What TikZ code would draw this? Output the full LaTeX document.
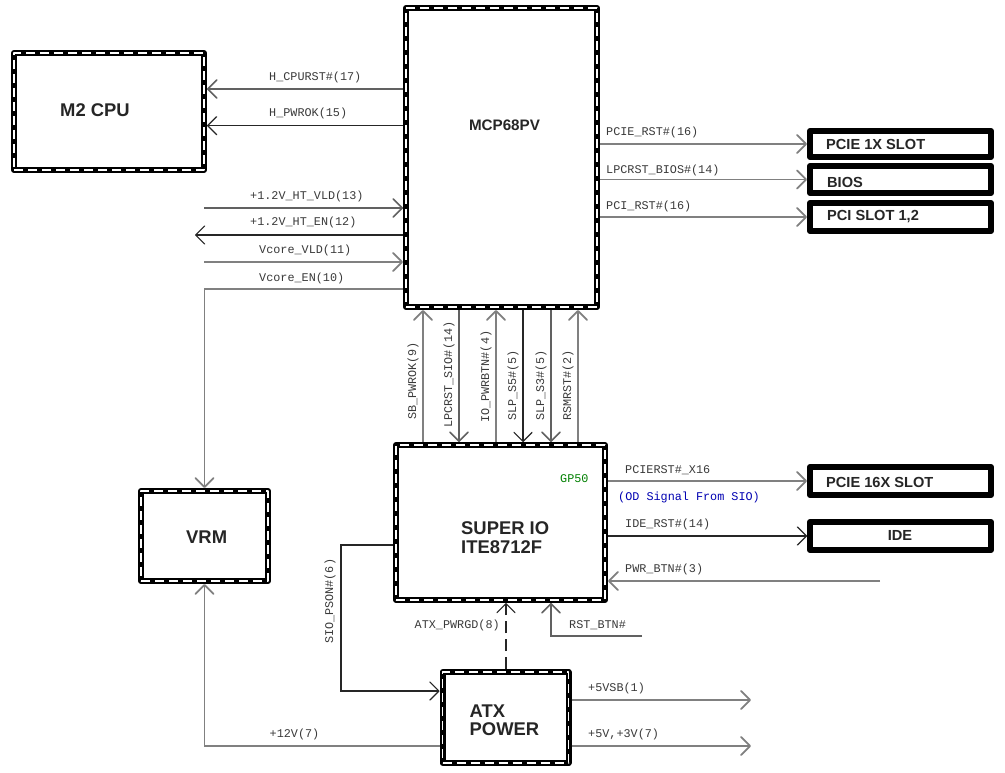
\documentclass[tikz,border=0pt]{standalone}
\usepackage{fontspec}
\setmainfont{Liberation Sans}
\setmonofont{Liberation Mono}
\usetikzlibrary{arrows.meta}
\definecolor{txt}{HTML}{3A3A3A}
\tikzset{
  x=1pt,y=-1pt,
  dbox/.style={draw=black,line width=6pt,fill=white,inner sep=0pt,outer sep=3pt,line join=round,
    postaction={draw=white,line width=1.1pt,dash pattern=on 9pt off 5pt}},
  sbox/.style={draw=black,line width=6pt,fill=white,inner sep=0pt,outer sep=3pt,line join=round,minimum width=181pt},
  lbl/.style={font=\fontsize{11.8}{12}\selectfont\ttfamily,text=txt,inner sep=0pt,anchor=west},
  vlbl/.style={lbl,rotate=90},
  big/.style={font=\fontsize{18.4}{18.4}\selectfont\bfseries,text=black!85,inner sep=0pt,anchor=west,align=left},
  slot/.style={font=\fontsize{14.6}{15}\selectfont\bfseries,text=black!85,inner sep=0pt,anchor=west},
  tip/.style={-{Straight Barb[length=9pt,width=18pt,round]}},
  wg/.style={tip,draw=black!50,line width=1.8pt},
  wm/.style={tip,draw=black!62,line width=1.5pt},
  wd/.style={tip,draw=black!85,line width=1.2pt},
  pg/.style={draw=black!45,line width=1.8pt},
  pd/.style={draw=black!85,line width=1.2pt},
}
\begin{document}
\begin{tikzpicture}
\useasboundingbox (0,0) rectangle (1005,773);
\fill[white] (0,0) rectangle (1005,773);
% boxes
\node[dbox,minimum width=190pt,minimum height=117pt] (cpu) at (109,111.5) {};
\node[dbox,minimum width=191pt,minimum height=299pt] (mcp) at (501.5,157.5) {};
\node[dbox,minimum width=209pt,minimum height=155pt] (sio) at (500.5,522.5) {};
\node[dbox,minimum width=127pt,minimum height=90pt] (vrm) at (204.5,536) {};
\node[dbox,minimum width=126pt,minimum height=91pt] (atx) at (505.5,717.5) {};
\node[sbox,minimum height=26pt] (p1x) at (900.5,144) {};
\node[sbox,minimum height=27pt] (bios) at (900.5,179.5) {};
\node[sbox,minimum height=28pt] (pci) at (900.5,217) {};
\node[sbox,minimum height=28pt] (p16) at (900.5,481) {};
\node[sbox,minimum height=28pt] (ide) at (900.5,536) {};
% box titles
\node[big] (tcpu) at (60,110) {M2 CPU};
\node[font=\fontsize{15.2}{16}\selectfont\bfseries,text=black!85,inner sep=0pt] (tmcp) at (504.5,125) {MCP68PV};
\node[big] (tsio) at (461,537.5) {SUPER IO\\ITE8712F};
\node[big] (tvrm) at (186,537) {VRM};
\node[big] (tatx) at (469.5,720.5) {ATX\\POWER};
\node[slot] (tp1x) at (826,144.5) {PCIE 1X SLOT};
\node[slot] (tbios) at (827,182) {BIOS};
\node[slot] (tpci) at (827,217) {PCI SLOT 1,2};
\node[slot] (tp16) at (826,482) {PCIE 16X SLOT};
\node[slot,anchor=center] (tide) at (900,535) {IDE};
% free ends
\coordinate (fvld) at (204,208);
\coordinate (fen) at (195,235);
\coordinate (fvcv) at (204,262);
\coordinate (pwr) at (880,581);
\coordinate (rst) at (642,636);
\coordinate (v5sb) at (751,700);
\coordinate (v5) at (751,746);
% CPU signals
\draw[wm] (mcp.west |- 0,89) -- (cpu.east |- 0,89);
\draw[wd] (mcp.west |- 0,125.7) -- (cpu.east |- 0,125.7);
\node[lbl] (l1) at (269,77) {H\_CPURST\#(17)};
\node[lbl] (l2) at (269,113) {H\_PWROK(15)};
% left signals
\draw[wm] (fvld) -- (mcp.west |- fvld);
\draw[wd] (mcp.west |- fen) -- (fen);
\draw[wg] (fvcv) -- (mcp.west |- fvcv);
\draw[wg] (mcp.west |- 0,289) -| (vrm.north);
\node[lbl] (l3) at (250,196) {+1.2V\_HT\_VLD(13)};
\node[lbl] (l4) at (250,222) {+1.2V\_HT\_EN(12)};
\node[lbl] (l5) at (259,250) {Vcore\_VLD(11)};
\node[lbl] (l6) at (259,278) {Vcore\_EN(10)};
% right signals
\draw[wg] (mcp.east |- p1x) -- (p1x.west);
\draw[wg] (mcp.east |- bios) -- (bios.west);
\draw[wg] (mcp.east |- pci) -- (pci.west);
\node[lbl] (l7) at (606,132) {PCIE\_RST\#(16)};
\node[lbl] (l8) at (606,170) {LPCRST\_BIOS\#(14)};
\node[lbl] (l9) at (606,206) {PCI\_RST\#(16)};
% verticals between MCP and SIO
\draw[wg] (sio.north -| 423,0) -- (mcp.south -| 423,0);
\draw[wm] (mcp.south -| 459,0) -- (sio.north -| 459,0);
\draw[wg] (sio.north -| 496,0) -- (mcp.south -| 496,0);
\draw[wd] (mcp.south -| 523,0) -- (sio.north -| 523,0);
\draw[wm] (mcp.south -| 551,0) -- (sio.north -| 551,0);
\draw[wg] (sio.north -| 578,0) -- (mcp.south -| 578,0);
\node[vlbl] (v1) at (413,420) {SB\_PWROK(9)};
\node[vlbl] (v2) at (449,428) {LPCRST\_SIO\#(14)};
\node[vlbl] (v3) at (486,423) {IO\_PWRBTN\#(4)};
\node[vlbl] (v4) at (513,421) {SLP\_S5\#(5)};
\node[vlbl] (v5l) at (541,421) {SLP\_S3\#(5)};
\node[vlbl] (v6) at (568,421) {RSMRST\#(2)};
% SIO right
\draw[wg] (sio.east |- p16) -- (p16.west);
\draw[wd] (sio.east |- ide) -- (ide.west);
\draw[wg] (pwr) -- (sio.east |- pwr);
\node[lbl,text=green!50!black] (gp) at (560,479) {GP50};
\node[lbl] (l10) at (625,470) {PCIERST\#\_X16};
\node[lbl,text=blue!70!black] (l11) at (618,497) {(OD Signal From SIO)};
\node[lbl] (l12) at (625,524) {IDE\_RST\#(14)};
\node[lbl] (l13) at (625,569) {PWR\_BTN\#(3)};
% SIO bottom
\draw[wd] (sio.west |- 0,545) -| (341,691) -- (atx.west |- 0,691);
\draw[tip,draw=black!85,line width=1.2pt,dash pattern=on 12pt off 6pt] (atx.north -| 506,0) -- (sio.south -| 506,0);
\draw[wm] (rst) -| (sio.south -| 551,0);
\node[vlbl] (l14) at (330,644) {SIO\_PSON\#(6)};
\node[lbl] (l15) at (414.5,625) {ATX\_PWRGD(8)};
\node[lbl] (l16) at (569,625) {RST\_BTN\#};
% ATX outputs
\draw[wg] (atx.west |- v5) -| (vrm.south);
\draw[wg] (atx.east |- v5sb) -- (v5sb);
\draw[wg] (atx.east |- v5) -- (v5);
\node[lbl] (l17) at (269.5,734) {+12V(7)};
\node[lbl] (l18) at (588,688) {+5VSB(1)};
\node[lbl] (l19) at (588,734) {+5V,+3V(7)};
\end{tikzpicture}
\end{document}
